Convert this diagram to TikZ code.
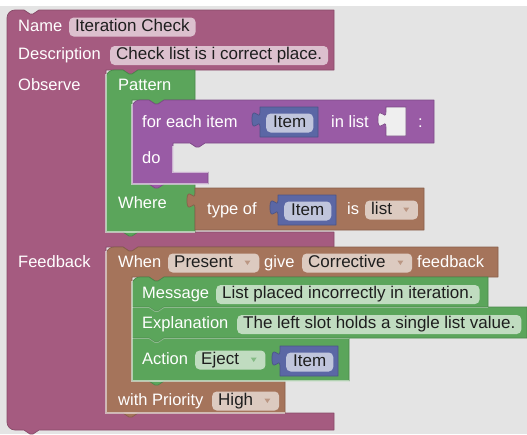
\documentclass[tikz,border=0pt]{standalone}
\usepackage{fontspec}
\setmainfont{Liberation Sans}
\definecolor{wsbg}{HTML}{E4E4E4}
\definecolor{sockbg}{HTML}{EFEFEF}
\definecolor{cpink}{HTML}{A55B80}
\definecolor{cgreen}{HTML}{5BA55B}
\definecolor{cpurple}{HTML}{995BA5}
\definecolor{cbrown}{HTML}{A5745B}
\definecolor{cblue}{HTML}{5B67A5}
\definecolor{fldtext}{HTML}{1E1E1E}
\tikzset{
  blk/.style={fill=#1, draw=#1!82!black, line width=0.7pt, line join=round},
  hilite/.style={draw=white, draw opacity=0.55, line width=1.4pt},
  lbl/.style={text=white, font=\fontsize{16.5}{19}\selectfont, inner sep=0pt, anchor=base west},
  fld/.style={fill=white, fill opacity=0.62, text opacity=1, text=fldtext, rounded corners=4.5pt,
    font=\fontsize{17}{19}\selectfont, inner xsep=6pt, inner ysep=1.5pt, text height=12pt, text depth=4pt, anchor=base west},
  ddarrow/.style={fill=#1!75!white},
  itemblk/.pic={
    \filldraw[blk=cblue] (58,0) -- (0,0) -- (0,5) .. controls (0,15) and (-8,-3) .. (-8,12.5) .. controls (-8,28) and (0,10) .. (0,20) -- (0,30) -- (58,30) -- cycle;
    \node[fld, inner xsep=7pt] (-pill) at (6,20) {Item};
  }
}
\begin{document}
\begin{tikzpicture}[x=1pt,y=-1pt]
\useasboundingbox (0,0) rectangle (527,434);
\fill[white] (0,0) rectangle (527,434);
\fill[wsbg] (0,6) rectangle (527,434);

% main pink block
\filldraw[blk=cpink] (7,18) .. controls (7,13.6) and (10.6,10) .. (15,10) -- (24,10) -- (30,14) -- (33,14) -- (39,10)
  -- (334,10) -- (334,70) -- (138,70) -- (132,74) -- (129,74) -- (123,70) -- (106,70) -- (106,232) -- (334,232)
  -- (334,247) -- (138,247) -- (132,251) -- (129,251) -- (123,247) -- (106,247) -- (106,413) -- (334,413)
  -- (334,430) -- (39,430) -- (33,434) -- (30,434) -- (24,430) -- (15,430) .. controls (10.6,430) and (7,426.4) .. (7,422) -- cycle;

% green Pattern block
\filldraw[blk=cgreen] (106,78) .. controls (106,73.6) and (109.6,70) .. (114,70) -- (123,70) -- (129,74) -- (132,74) -- (138,70)
  -- (195,70) -- (195,100) -- (164,100) -- (158,104) -- (155,104) -- (149,100) -- (132,100) -- (132,184) -- (195,184)
  -- (195,232) -- (138,232) -- (132,236) -- (129,236) -- (123,232) -- (106,232) -- cycle;

% purple for-each block
\filldraw[blk=cpurple] (132,108) .. controls (132,103.6) and (135.6,100) .. (140,100) -- (149,100) -- (155,104) -- (158,104) -- (164,100)
  -- (434,100) -- (434,143) -- (205,143) -- (199,147) -- (196,147) -- (190,143) -- (173,143) -- (173,172) -- (208,172)
  -- (208,184) -- (164,184) -- (158,188) -- (155,188) -- (149,184) -- (132,184) -- cycle;
% empty list socket
\filldraw[fill=sockbg, draw=cpurple!80!black, line width=0.6pt] (406,107) -- (386,107) -- (386,112) .. controls (386,122) and (378,104) .. (378,119.5) .. controls (378,135) and (386,117) .. (386,127) -- (386,136) -- (406,136) -- cycle;
\pic (itA) at (260,107) {itemblk};

% brown type-of block
\filldraw[blk=cbrown] (424,188) -- (195,188) -- (195,193) .. controls (195,203) and (187,185) .. (187,200.5) .. controls (187,216) and (195,198) .. (195,208) -- (195,230) -- (424,230) -- cycle;
\pic (itB) at (278,195) {itemblk};

% brown feedback block
\filldraw[blk=cbrown] (106,255) .. controls (106,250.6) and (109.6,247) .. (114,247) -- (123,247) -- (129,251) -- (132,251) -- (138,247)
  -- (498,247) -- (498,277) -- (164,277) -- (158,281) -- (155,281) -- (149,277) -- (132,277) -- (132,381) -- (285,381)
  -- (285,413) -- (138,413) -- (132,417) -- (129,417) -- (123,413) -- (106,413) -- cycle;

% green Action block
\filldraw[blk=cgreen] (132,338) -- (149,338) -- (155,342) -- (158,342) -- (164,338) -- (349,338) -- (349,381)
  -- (164,381) -- (158,385) -- (155,385) -- (149,381) -- (132,381) -- cycle;
% green Explanation block
\filldraw[blk=cgreen] (132,307) -- (149,307) -- (155,311) -- (158,311) -- (164,307) -- (527,307) -- (527,338)
  -- (164,338) -- (158,342) -- (155,342) -- (149,338) -- (132,338) -- cycle;
% green Message block
\filldraw[blk=cgreen] (132,285) .. controls (132,280.6) and (135.6,277) .. (140,277) -- (149,277) -- (155,281) -- (158,281) -- (164,277)
  -- (488,277) -- (488,307) -- (164,307) -- (158,311) -- (155,311) -- (149,307) -- (132,307) -- cycle;
\pic (itC) at (280,346) {itemblk};

% highlights of statement inputs
\draw[hilite] (106,74) -- (106,232) -- (195,232);
\draw[hilite] (132,104) -- (132,184) -- (208,184);
\draw[hilite] (173,146) -- (173,172) -- (208,172);
\draw[hilite] (106,251) -- (106,413) -- (285,413);
\draw[hilite] (132,281) -- (132,381) -- (349,381);
\draw[hilite, draw opacity=0.35, line width=0.8pt] (132,307.5) -- (149,307.5) -- (155,311.5) -- (158,311.5) -- (164,307.5) -- (488,307.5);
\draw[hilite, draw opacity=0.35, line width=0.8pt] (132,338.5) -- (149,338.5) -- (155,342.5) -- (158,342.5) -- (164,338.5) -- (349,338.5);

% labels and fields
\node[lbl] (tName) at (18,31) {Name};
\node[fld] (fName) at (69,31) {Iteration Check};
\node[lbl] (tDesc) at (18,59.5) {Description};
\node[fld] (fDesc) at (110,59.5) {Check list is i correct place.};
\node[lbl] (tObs) at (18,90) {Observe};
\node[lbl] (tPat) at (118,90.5) {Pattern};
\node[lbl] (tFor) at (142,127) {for each item};
\node[lbl] (tIn) at (331,127) {in list};
\node[lbl] (tColon) at (418,127) {:};
\node[lbl] (tDo) at (142,163) {do};
\node[lbl] (tWhere) at (118,208.5) {Where};
\node[lbl] (tType) at (207,214) {type of};
\node[lbl] (tIs) at (347,214) {is};
\node[fld] (dList) at (365,214) {list\kern20pt};
\fill[ddarrow=cbrown] ([xshift=-15pt,yshift=2.5pt]dList.east) -- ++(6,0) -- ++(-3,4.5) -- cycle;

\node[lbl] (tFb) at (18,267) {Feedback};
\node[lbl] (tWhen) at (118,267) {When};
\node[fld] (dPresent) at (168,267) {Present\kern20.5pt};
\fill[ddarrow=cbrown] ([xshift=-15pt,yshift=2.5pt]dPresent.east) -- ++(6,0) -- ++(-3,4.5) -- cycle;
\node[lbl] (tGive) at (264,267) {give};
\node[fld] (dCorr) at (302,267) {Corrective\kern20.5pt};
\fill[ddarrow=cbrown] ([xshift=-15pt,yshift=2.5pt]dCorr.east) -- ++(6,0) -- ++(-3,4.5) -- cycle;
\node[lbl] (tFeedback) at (417,267) {feedback};

\node[lbl] (tMsg) at (142,298.5) {Message};
\node[fld] (fMsg) at (216,298.5) {List placed incorrectly in iteration.};
\node[lbl] (tExp) at (142,328.5) {Explanation};
\node[fld] (fExp) at (237,328.5) {The left slot holds a single list value.};
\node[lbl] (tAct) at (142,364) {Action};
\node[fld] (dEject) at (195,364) {Eject\kern20.5pt};
\fill[ddarrow=cgreen] ([xshift=-15pt,yshift=2.5pt]dEject.east) -- ++(6,0) -- ++(-3,4.5) -- cycle;
\node[lbl] (tPrio) at (118,405) {with Priority};
\node[fld] (dHigh) at (212,405) {High\kern20pt};
\fill[ddarrow=cbrown] ([xshift=-15pt,yshift=2.5pt]dHigh.east) -- ++(6,0) -- ++(-3,4.5) -- cycle;
\end{tikzpicture}
\end{document}
